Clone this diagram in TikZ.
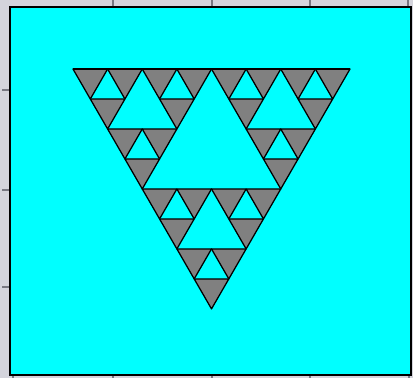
\documentclass[tikz,border=0pt]{standalone}
\usepackage{tikz}
\definecolor{rahmengrau}{RGB}{212,212,220}
\definecolor{tickgrau}{RGB}{120,120,130}
\definecolor{dreieckgrau}{RGB}{128,128,128}
\definecolor{flaeche}{RGB}{0,255,255}
\begin{document}
\begin{tikzpicture}[x=0.025cm, y=-0.025cm,
    tick/.style={tickgrau, line width=1pt},
    graytri/.style={fill=dreieckgrau, draw=black, line width=0.9pt, line join=round}]
        % Hintergrund und Rahmen
        \fill[rahmengrau] (0,0) rectangle (413,378);
        \useasboundingbox (0,0) rectangle (413,378);
        \foreach \tx in {113,212,310,408}
            \draw[tick] (\tx,0) -- (\tx,7);
        \foreach \tx in {13,113,212,310,409}
            \draw[tick] (\tx,375) -- (\tx,378);
        \foreach \ty in {90,190,287}
            \draw[tick] (2,\ty) -- (10,\ty);
        \draw[fill=flaeche, draw=black, line width=1.2pt] (10,7) rectangle (411,375);

        % --- Sierpinski-Dreieck (Spitze unten) ---
        \foreach \ax/\ay in {0/0, 138.5/0, 69.25/119.94}
            \foreach \bx/\by in {0/0, 69.25/0, 34.625/59.97}
                \foreach \cx/\cy in {0/0, 34.625/0, 17.3125/29.985}
                    \draw[graytri, shift={(73+\ax+\bx+\cx, 69+\ay+\by+\cy)}]
                        (0,0) -- (34.625,0) -- (17.3125,29.985) -- cycle;

        % Oberkante
        \draw[black, line width=1.1pt] (73,69) -- (350,69);
    \end{tikzpicture}
\end{document}
